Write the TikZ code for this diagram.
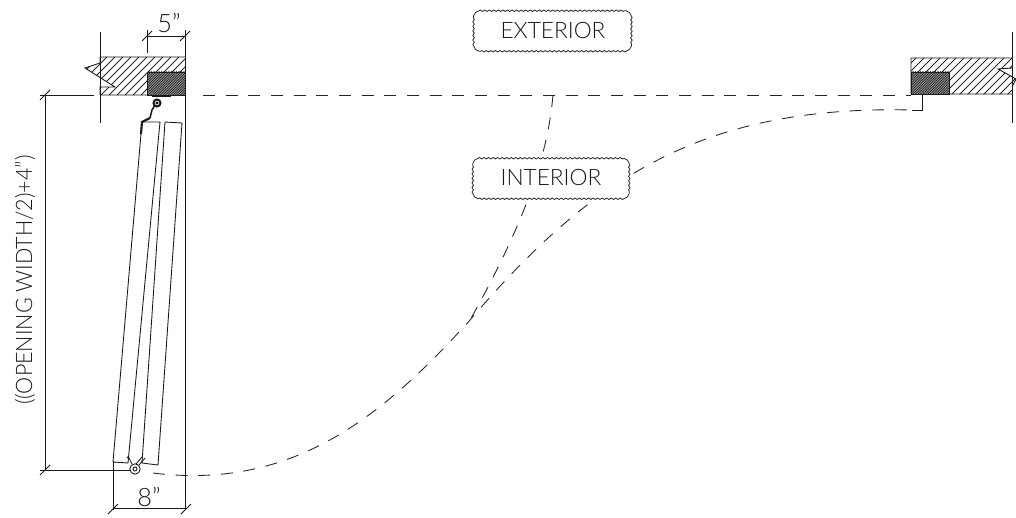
\documentclass[tikz,border=0pt]{standalone}
\usepackage{fontspec}
\setmainfont{Lato Light}
\usetikzlibrary{decorations.pathmorphing}
\tikzset{
 px/.style={x=0.75pt,y=-0.75pt},
 ln/.style={line width=0.65pt,black!90},
 thin ln/.style={line width=0.55pt,black!85},
 dash ln/.style={line width=0.65pt,black!85,dash pattern=on 9pt off 8pt},
 wavy/.style={line width=0.6pt,black!85,decorate,decoration={snake,segment length=3.4pt,amplitude=0.55pt}},
 cloud box/.style={fill=white,inner sep=0pt,minimum width=118pt,minimum height=30pt},
 lbl/.style={inner sep=0pt,text=black!90,font=\fontsize{17}{17}\selectfont},
 big lbl/.style={inner sep=0pt,text=black!90,font=\fontsize{19}{19}\selectfont},
}
\newcommand{\wavybox}[1]{%
 \draw[wavy] ([xshift=4pt]#1.north west) -- ([xshift=-4pt]#1.north east);
 \draw[wavy] ([yshift=-4pt]#1.north east) -- ([yshift=4pt]#1.south east);
 \draw[wavy] ([xshift=-4pt]#1.south east) -- ([xshift=4pt]#1.south west);
 \draw[wavy] ([yshift=4pt]#1.south west) -- ([yshift=-4pt]#1.north west);
 \draw[line width=0.6pt,black!85] ([xshift=4pt]#1.north west) to[bend right=30] ([yshift=-4pt]#1.north west);
 \draw[line width=0.6pt,black!85] ([xshift=-4pt]#1.north east) to[bend left=30] ([yshift=-4pt]#1.north east);
 \draw[line width=0.6pt,black!85] ([xshift=-4pt]#1.south east) to[bend right=30] ([yshift=4pt]#1.south east);
 \draw[line width=0.6pt,black!85] ([xshift=4pt]#1.south west) to[bend left=30] ([yshift=4pt]#1.south west);
}
\begin{document}
\begin{tikzpicture}[px]
\useasboundingbox (0,0) rectangle (1016,517);
% dashed geometry
\draw[dash ln] (203,95) -- (911,95);
\draw[dash ln] (553,95) .. controls (549,140) and (535,205) .. (470,320);
\draw[dash ln] (153,473) .. controls (290,490) and (380,420) .. (470,320)
  .. controls (590,180) and (700,105) .. (912,110);
\draw[ln] (922,95) -- (922,110) -- (912,110);
% left wall
\begin{scope}
\clip (100,57) -- (185,57) -- (185,95) -- (100,95) -- (100,87) -- (115,87) -- (85,68) -- (100,63) -- cycle;
\foreach \i in {0,...,19} \draw[thin ln] (40+\i*8,100) -- (40+\i*8+50,50);
\end{scope}
\draw[ln] (100,63) -- (100,57) -- (185,57) (185,95) -- (100,95) -- (100,87) -- (115,87) -- (85,68) -- (100,63);
\fill[black!45] (147,72) rectangle (185,95);
\begin{scope}
\clip (147,72) rectangle (185,95);
\foreach \i in {0,...,25} \draw[line width=0.4pt,black!90] (118+\i*2.5,100) -- (118+\i*2.5+30,70);
\end{scope}
\draw[ln] (147,72) rectangle (185,95);
\draw[ln] (100,32) -- (100,123);
\draw[ln,line width=1.3pt] (152,96) -- (171,96);
% right wall
\begin{scope}
\clip (911,58) -- (1012,58) -- (1012,68) -- (998,69) -- (1016,79) -- (1012,87) -- (1012,94) -- (911,94) -- cycle;
\foreach \i in {0,...,19} \draw[thin ln] (866+\i*8,100) -- (866+\i*8+50,50);
\end{scope}
\draw[ln] (1012,68) -- (998,69) -- (1016,79) -- (1012,87) (1012,94) -- (911,94) -- (911,58) -- (1012,58);
\fill[black!45] (911,72) rectangle (949,94);
\begin{scope}
\clip (911,72) rectangle (949,94);
\foreach \i in {0,...,25} \draw[line width=0.4pt,black!90] (882+\i*2.5,100) -- (882+\i*2.5+30,70);
\end{scope}
\draw[ln] (911,72) rectangle (949,94);
\draw[ln] (1012,32) -- (1012,123);
% panels
\draw[ln] (142,122) -- (160,122) -- (128,463) -- (113,462) -- cycle;
\draw[ln] (165,122) -- (182,123) -- (158,465) -- (142,463) -- cycle;
% hardware
\draw[ln,line width=1.6pt] (141,134) -- (142,122) -- (150,118);
\draw[ln,line width=1.1pt] (150,118) -- (152,110) -- (155,105);
\draw[ln,line width=1.5pt] (157,103) circle (3.5);
\fill[black] (157,103) circle (1.6);
\draw[ln] (135,469) circle (5.2);
\draw[ln] (135,469) circle (2);
\draw[ln] (128,456) -- (132,464);
\draw[ln] (129,456) -- (127,458);
\draw[ln] (142,457) -- (136,464) (145,458) -- (139,465);
% dimensions
\draw[ln] (185,30) -- (185,510);
\draw[ln] (147,30) -- (147,53);
\draw[ln] (147,36) -- (185,36);
\draw[ln] (142,41) -- (152,31) (180,41) -- (190,31);
\draw[ln] (113,462) -- (113,510);
\draw[ln] (113,508) -- (186,508);
\draw[ln] (108,514) -- (118,504) (181,514) -- (191,504);
\draw[ln] (40,95) -- (94,95);
\draw[ln] (40,470) -- (130,470);
\draw[ln] (45,95) -- (45,470);
\draw[ln] (40,100) -- (50,90) (40,475) -- (50,465);
% labels
\node[cloud box] (ext) at (552.5,31) {};
\wavybox{ext}
\node[lbl] (exttext) at (553,30) {EXTERIOR};
\node[cloud box,minimum width=117pt] (int) at (551,178.5) {};
\wavybox{int}
\node[lbl] (inttext) at (551,177) {INTERIOR};
\node[big lbl] (five) at (169,23) {5"};
\node[big lbl] (eight) at (149,497) {8"};
\node[lbl,rotate=90] (width) at (25,280) {\scalebox{0.95}[1]{((OPENING WIDTH/2)+4")}};
\end{tikzpicture}
\end{document}
